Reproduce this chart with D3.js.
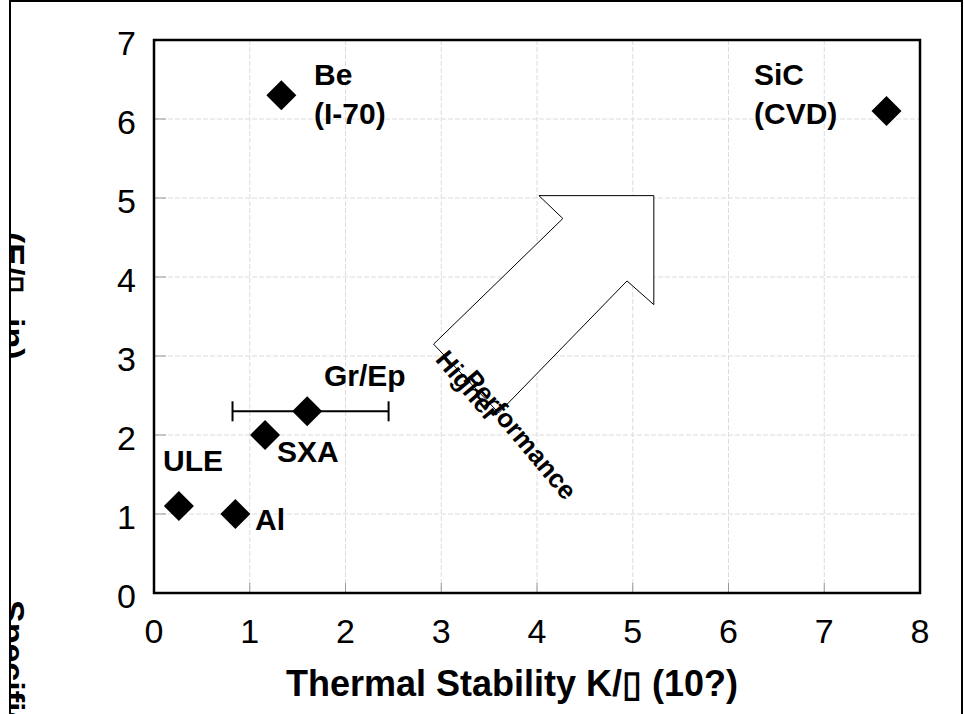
<!DOCTYPE html>
<html><head><meta charset="utf-8">
<script src="https://cdn.jsdelivr.net/npm/d3@7"></script>
<style>
html,body{margin:0;padding:0;background:#fff;}
svg{display:block;font-family:"Liberation Sans",Arial,sans-serif;}
</style></head>
<body>
<svg id="chart" width="964" height="714"></svg>
<script>
// ---- data ----
const materials = ["Be", "SiC", "Gr/Ep", "SXA", "ULE", "Al"];
const thermalStability = [1.33, 7.65, 1.6, 1.16, 0.26, 0.85];
const specificStiffness = [6.3, 6.1, 2.3, 2.0, 1.1, 1.0];
const errLow = [null, null, 0.82, null, null, null];
const errHigh = [null, null, 2.45, null, null, null];
const labelLines = [["Be", "(I-70)"], ["SiC", "(CVD)"], ["Gr/Ep"], ["SXA"], ["ULE"], ["Al"]];
const xTicks = [0, 1, 2, 3, 4, 5, 6, 7, 8];
const yTicks = [0, 1, 2, 3, 4, 5, 6, 7];
// block arrow outline, in data units (x, y)
const arrowX = [2.92, 4.27, 4.02, 5.22, 5.22, 4.94, 3.60];
const arrowY = [3.15, 4.74, 5.03, 5.03, 3.65, 3.95, 2.28];

// ---- layout ----
const svg = d3.select("#chart");
const L = 154, R = 920, T = 40, B = 593;
const x = d3.scaleLinear().domain([0, 8]).range([L, R]);
const y = d3.scaleLinear().domain([0, 7]).range([B, T]);

// outer frame
svg.append("rect").attr("x", 10).attr("y", 1).attr("width", 952).attr("height", 740)
  .attr("fill", "none").attr("stroke", "#000").attr("stroke-width", 2);

// grid
const g = svg.append("g");
g.selectAll("line.vg").data(xTicks.slice(1, -1)).join("line")
  .attr("x1", d => x(d)).attr("x2", d => x(d)).attr("y1", T).attr("y2", B)
  .attr("stroke", "#dcdcdc").attr("stroke-width", 1).attr("stroke-dasharray", "5,2");
g.selectAll("line.hg").data(yTicks.slice(1, -1)).join("line")
  .attr("x1", L).attr("x2", R).attr("y1", d => y(d)).attr("y2", d => y(d))
  .attr("stroke", "#dcdcdc").attr("stroke-width", 1).attr("stroke-dasharray", "5,2");

// inner ticks
g.selectAll("line.xt").data(xTicks).join("line")
  .attr("x1", d => x(d)).attr("x2", d => x(d)).attr("y1", B).attr("y2", B - 10)
  .attr("stroke", "#999").attr("stroke-width", 1);
g.selectAll("line.yt").data(yTicks).join("line")
  .attr("x1", L).attr("x2", L + 12).attr("y1", d => y(d)).attr("y2", d => y(d))
  .attr("stroke", "#999").attr("stroke-width", 1);

// plot frame
svg.append("rect").attr("x", L).attr("y", T).attr("width", R - L).attr("height", B - T)
  .attr("fill", "none").attr("stroke", "#000").attr("stroke-width", 2.5);

// tick labels
svg.selectAll("text.xl").data(xTicks).join("text")
  .attr("x", d => x(d)).attr("y", B + 50).attr("text-anchor", "middle")
  .attr("font-size", 34).text(d => d);
svg.selectAll("text.yl").data(yTicks).join("text")
  .attr("x", L - 18).attr("y", d => y(d) + 15).attr("text-anchor", "end")
  .attr("font-size", 34).text(d => d);

// axis title
svg.append("text").attr("x", 512).attr("y", 696).attr("text-anchor", "middle")
  .attr("font-size", 36).attr("font-weight", "bold").text("Thermal Stability K/\u25AF (10?)");

// y title (clipped by frame)
const clip = svg.append("clipPath").attr("id", "frameclip");
clip.append("rect").attr("x", 11).attr("y", 0).attr("width", 960).attr("height", 714);
const yt = svg.append("g").attr("clip-path", "url(#frameclip)");
yt.append("text").attr("transform", "translate(1,600) rotate(90)")
  .attr("font-size", 34).attr("font-weight", "bold").text("Specific Stiffness");
yt.append("text").attr("transform", "translate(1,232) rotate(90)")
  .attr("font-size", 34).attr("font-weight", "bold").text("(E/\u25AF");
yt.append("text").attr("transform", "translate(1,318) rotate(90)")
  .attr("font-size", 34).attr("font-weight", "bold").text("in)");

// arrow
const arrowPts = arrowX.map((v, i) => [x(v), y(arrowY[i])]);
svg.append("path").attr("d", d3.line()(arrowPts) + "Z")
  .attr("fill", "#fff").attr("stroke", "#000").attr("stroke-width", 1);

// arrow text
svg.append("text").attr("transform", `translate(${x(2.93)},${y(2.95)}) rotate(50)`)
  .attr("font-size", 26).attr("font-weight", "bold").text("Higher");
svg.append("text").attr("transform", `translate(${x(3.22)},${y(2.7)}) rotate(50)`)
  .attr("font-size", 26).attr("font-weight", "bold").text("Performance");

// error bar
const eb = svg.append("g");
materials.forEach((m, i) => {
  if (errLow[i] == null) return;
  const cy = y(specificStiffness[i]);
  eb.append("line").attr("x1", x(errLow[i])).attr("x2", x(errHigh[i])).attr("y1", cy).attr("y2", cy)
    .attr("stroke", "#000").attr("stroke-width", 2);
  [errLow[i], errHigh[i]].forEach(v => eb.append("line")
    .attr("x1", x(v)).attr("x2", x(v)).attr("y1", cy - 10).attr("y2", cy + 10)
    .attr("stroke", "#000").attr("stroke-width", 2));
});

// diamonds
const sym = d3.symbol().type(d3.symbolSquare).size(450);
svg.selectAll("path.pt").data(materials).join("path")
  .attr("transform", (d, i) => `translate(${x(thermalStability[i])},${y(specificStiffness[i])}) rotate(45)`)
  .attr("d", sym).attr("fill", "#000");

// labels
const labelPos = { "Be": [314, 85], "SiC": [754, 85], "Gr/Ep": [324, 386], "SXA": [277, 462], "ULE": [163, 471], "Al": [255, 530] };
materials.forEach((m, i) => {
  const t = svg.append("text").attr("x", labelPos[m][0]).attr("y", labelPos[m][1])
    .attr("font-size", 30).attr("font-weight", "bold");
  labelLines[i].forEach((ln, j) => t.append("tspan").attr("x", labelPos[m][0]).attr("dy", j ? 39 : 0).text(ln));
});
</script>
</body></html>
